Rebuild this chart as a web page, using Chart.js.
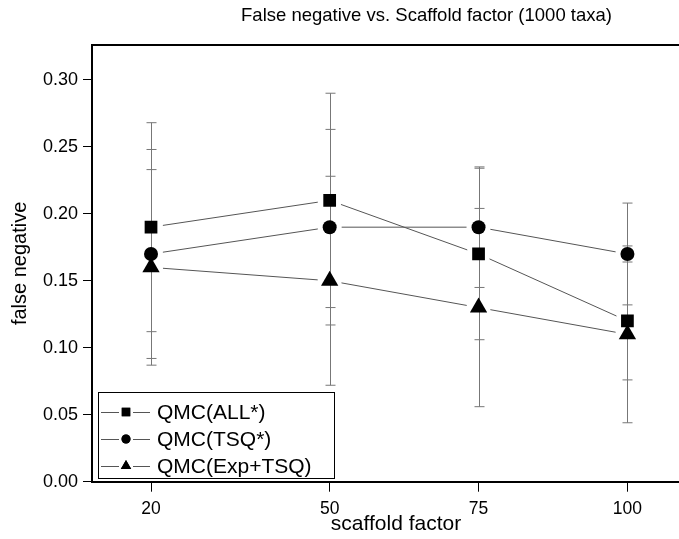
<!DOCTYPE html>
<html>
<head>
<meta charset="utf-8">
<script src="https://cdn.jsdelivr.net/npm/chart.js@4.4.1/dist/chart.umd.min.js"></script>
<style>
  html, body { margin: 0; padding: 0; background: #fff; overflow: hidden; }
  #wrap { width: 679px; height: 539px; overflow: hidden; }
  #box { width: 853px; height: 539px; }
</style>
</head>
<body>
<div id="wrap"><div id="box"><canvas id="chart"></canvas></div></div>
<script>
const scaffold = [20, 50, 75, 100];
const xTicks = [20, 50, 75, 100];
const yTicks = [0, 0.05, 0.10, 0.15, 0.20, 0.25, 0.30];

const allStar = [0.19, 0.21, 0.17, 0.12];
const allStarErr = [0.078, 0.080, 0.064, 0.044];
const tsqStar = [0.17, 0.19, 0.19, 0.17];
const tsqStarErr = [0.078, 0.073, 0.045, 0.038];
const expTsq = [0.16, 0.15, 0.13, 0.11];
const expTsqErr = [0.073, 0.078, 0.074, 0.066];

const FONT = "'Liberation Sans', Arial, sans-serif";

function points(vals) {
  return scaffold.map((x, i) => ({ x: x, y: vals[i] }));
}

// connecting lines (with a gap around each marker) and vertical error bars
const linesAndErrors = {
  id: "linesAndErrors",
  beforeDatasetsDraw(chart) {
    const ctx = chart.ctx;
    const xs = chart.scales.x, ys = chart.scales.y;
    ctx.save();
    ctx.lineWidth = 1;
    chart.data.datasets.forEach(ds => {
      const pts = ds.data.map(p => ({ x: xs.getPixelForValue(p.x), y: ys.getPixelForValue(p.y) }));
      ctx.strokeStyle = "#555";
      ctx.beginPath();
      for (let i = 0; i < pts.length - 1; i++) {
        const a = pts[i], b = pts[i + 1];
        const dx = b.x - a.x, dy = b.y - a.y;
        const len = Math.hypot(dx, dy), gap = 12;
        ctx.moveTo(a.x + dx * gap / len, a.y + dy * gap / len);
        ctx.lineTo(b.x - dx * gap / len, b.y - dy * gap / len);
      }
      ctx.stroke();

      ctx.strokeStyle = "#777";
      ds.data.forEach((p, i) => {
        const px = Math.round(xs.getPixelForValue(p.x)) + 0.5;
        const top = ys.getPixelForValue(p.y + ds.errors[i]);
        const bot = ys.getPixelForValue(p.y - ds.errors[i]);
        ctx.beginPath();
        ctx.moveTo(px, top);
        ctx.lineTo(px, bot);
        ctx.moveTo(px - 5, top);
        ctx.lineTo(px + 5, top);
        ctx.moveTo(px - 5, bot);
        ctx.lineTo(px + 5, bot);
        ctx.stroke();
      });
    });
    ctx.restore();
  }
};

// top frame line, x axis title and boxed legend
const frameAndLegend = {
  id: "frameAndLegend",
  afterDraw(chart) {
    const ctx = chart.ctx;
    const a = chart.chartArea;
    ctx.save();
    ctx.strokeStyle = "#000";
    ctx.lineWidth = 2;
    ctx.beginPath();
    ctx.moveTo(a.left - 1, a.top);
    ctx.lineTo(a.right, a.top);
    ctx.stroke();

    ctx.fillStyle = "#000";
    ctx.font = "21px " + FONT;
    ctx.textAlign = "center";
    ctx.textBaseline = "middle";
    ctx.fillText("scaffold factor", 396, 524);
    ctx.textAlign = "left";

    const lx = 98, ly = 392, lw = 236, lh = 86;
    ctx.fillStyle = "#fff";
    ctx.fillRect(lx, ly, lw, lh);
    ctx.lineWidth = 1;
    ctx.strokeRect(lx + 0.5, ly + 0.5, lw, lh);

    chart.data.datasets.forEach((ds, i) => {
      const cy = ly + 20 + i * 27;
      ctx.strokeStyle = "#555";
      ctx.beginPath();
      ctx.moveTo(101, cy + 0.5);
      ctx.lineTo(119, cy + 0.5);
      ctx.moveTo(133, cy + 0.5);
      ctx.lineTo(150, cy + 0.5);
      ctx.stroke();
      ctx.fillStyle = "#000";
      const r = ds.pointStyle === "circle" ? 4.5 : 6;
      Chart.helpers.drawPoint(ctx, { pointStyle: ds.pointStyle, radius: r, borderWidth: 0 }, 126, cy);
      ctx.fill();
      ctx.fillText(ds.label, 157, cy + 1);
    });
    ctx.restore();
  }
};

const ctx = document.getElementById("chart").getContext("2d");
new Chart(ctx, {
  type: "line",
  data: {
    datasets: [
      { label: "QMC(ALL*)", data: points(allStar), errors: allStarErr, pointStyle: "rect", pointRadius: 9 },
      { label: "QMC(TSQ*)", data: points(tsqStar), errors: tsqStarErr, pointStyle: "circle", pointRadius: 7 },
      { label: "QMC(Exp+TSQ)", data: points(expTsq), errors: expTsqErr, pointStyle: "triangle", pointRadius: 10 }
    ].map(d => Object.assign(d, {
      showLine: false,
      borderColor: "#555",
      borderWidth: 1,
      backgroundColor: "#000",
      pointBackgroundColor: "#000",
      pointBorderColor: "#000",
      pointBorderWidth: 0,
      pointHoverRadius: d.pointRadius
    }))
  },
  options: {
    responsive: true,
    maintainAspectRatio: false,
    animation: false,
    layout: { padding: 0 },
    plugins: {
      legend: { display: false },
      tooltip: { enabled: false },
      title: {
        display: true,
        text: "False negative vs. Scaffold factor (1000 taxa)",
        color: "#000",
        font: { family: FONT, size: 18.5, weight: "normal" },
        padding: { top: 5, bottom: 17.8 }
      }
    },
    scales: {
      x: {
        type: "linear",
        min: 10.09,
        max: 136.2,
        afterBuildTicks: s => { s.ticks = xTicks.map(v => ({ value: v })); },
        afterFit: s => { s.height = 57.3; },
        grid: { drawOnChartArea: false, tickLength: 10, color: "#000", tickWidth: 1 },
        border: { color: "#000", width: 2 },
        ticks: { color: "#000", font: { family: FONT, size: 17.5 }, padding: 7, maxRotation: 0 },
        title: { display: false }
      },
      y: {
        min: 0,
        max: 0.326,
        afterBuildTicks: s => { s.ticks = yTicks.map(v => ({ value: v })); },
        afterFit: s => { s.width = 92; },
        grid: { drawOnChartArea: false, tickLength: 9, color: "#000", tickWidth: 1 },
        border: { color: "#000", width: 2 },
        ticks: { color: "#000", font: { family: FONT, size: 18 }, padding: 5, callback: v => v.toFixed(2) },
        title: { display: true, text: "false negative", color: "#000", font: { family: FONT, size: 20 }, padding: { top: 8, bottom: 0 } }
      }
    }
  },
  plugins: [linesAndErrors, frameAndLegend]
});
</script>
</body>
</html>
